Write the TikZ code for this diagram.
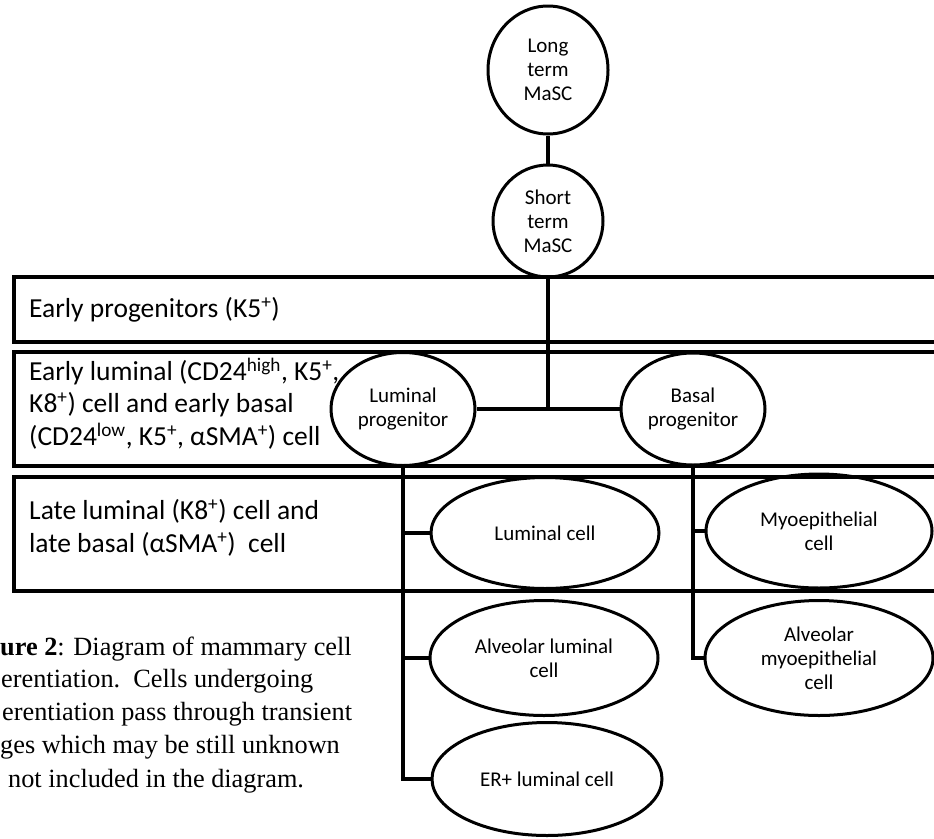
\documentclass[tikz,border=0pt]{standalone}
\usepackage{fontspec}
\setmainfont{Carlito}
\newfontfamily\capfont{Liberation Serif}
\usetikzlibrary{shapes.geometric}
\begin{document}
\begin{tikzpicture}[x=1pt,y=-1pt,
  band/.style={draw, line width=3.8pt},
  cellnode/.style={draw, ellipse, line width=3pt, inner sep=0pt, align=center,
    font=\fontsize{21}{24}\selectfont},
  conn/.style={line width=3.5pt},
  boxtext/.style={anchor=west, align=left, inner sep=0pt,
    font=\fontsize{27.5}{32.5}\selectfont},
  captext/.style={anchor=base west, inner sep=0pt,
    font=\capfont\fontsize{26.3}{32}\selectfont}
]
\useasboundingbox (0,0) rectangle (934,838);
\begin{scope}
\clip (0,0) rectangle (934,838);
% bands
\draw[band] (14,277) rectangle (950,342);
\draw[band] (14,352) rectangle (950,466);
\draw[band] (14,477) rectangle (950,591);
\node[boxtext] (t1) at (29,309.5) {Early progenitors (K5\textsuperscript{+})};
\node[boxtext] (t2) at (29,403.5) {Early luminal (CD24\textsuperscript{high}, K5\textsuperscript{+},\\K8\textsuperscript{+}) cell and early basal\\(CD24\textsuperscript{low}, K5\textsuperscript{+}, αSMA\textsuperscript{+}) cell};
\node[boxtext] (t3) at (29,528) {Late luminal (K8\textsuperscript{+}) cell and\\late basal (αSMA\textsuperscript{+})\ \ cell};
% cells
\node[cellnode, minimum width=120pt, minimum height=128pt] (c1) at (548,70) {Long\\term\\MaSC};
\node[cellnode, minimum width=110pt, minimum height=112pt] (c2) at (548,221) {Short\\term\\MaSC};
\node[cellnode, minimum width=144pt, minimum height=113pt] (lp) at (403,409) {Luminal\\progenitor};
\node[cellnode, minimum width=144pt, minimum height=112pt] (bp) at (693,409) {Basal\\progenitor};
\node[cellnode, minimum width=228pt, minimum height=111pt] (lc) at (545,533) {Luminal cell};
\node[cellnode, minimum width=226pt, minimum height=114pt] (mc) at (819,531) {Myoepithelial\\cell};
\node[cellnode, minimum width=228pt, minimum height=115pt] (alc) at (544,658) {Alveolar luminal\\cell};
\node[cellnode, minimum width=228pt, minimum height=115pt] (amc) at (819,658) {Alveolar\\myoepithelial\\cell};
\node[cellnode, minimum width=230pt, minimum height=113pt] (er) at (547,779) {ER+ luminal cell};
% connectors
\coordinate (j) at (c2.south |- lp.east);
\coordinate (lb) at (lp.south |- er.west);
\coordinate (lbc) at (lp.south |- lc.west);
\coordinate (lba) at (lp.south |- alc.west);
\coordinate (bb) at (bp.south |- amc.west);
\coordinate (bbm) at (bp.south |- mc.west);
\draw[conn] (c1.south) -- (c2.north);
\draw[conn] (c2.south) -- (j);
\draw[conn] (lp.east) -- (bp.west);
\draw[conn] (lp.south) -- (lb) -- (er.west);
\draw[conn] (lbc) -- (lc.west);
\draw[conn] (lba) -- (alc.west);
\draw[conn] (bp.south) -- (bb) -- (amc.west);
\draw[conn] (bbm) -- (mc.west);
% caption
\node[captext] (cap1) at (0,655) {\textbf{ure 2}: Diagram of mammary cell};
\node[captext] (cap2) at (1,687) {erentiation.\ \ Cells undergoing};
\node[captext] (cap3) at (2,720) {erentiation pass through transient};
\node[captext] (cap4) at (0,753) {ges which may be still unknown};
\node[captext] (cap5) at (8,787) {not included in the diagram.};
\end{scope}
\end{tikzpicture}
\end{document}
